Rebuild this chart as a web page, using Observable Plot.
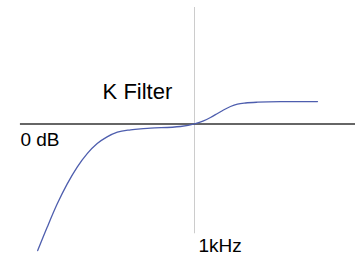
<!DOCTYPE html>
<html>
<head>
<meta charset="utf-8">
<script src="https://cdn.jsdelivr.net/npm/d3@7"></script>
<script src="https://cdn.jsdelivr.net/npm/@observablehq/plot@0.6"></script>
<style>
  html, body { margin: 0; padding: 0; background: #fff; }
  #chart svg { display: block; }
</style>
</head>
<body>
<div id="chart"></div>
<script>
// K-filter response (frequency in Hz, gain in dB)
const freqs  = [20, 25.4, 32.5, 41.8, 53.6, 68.8, 88.3, 113, 146, 203, 260, 334, 705, 1000, 1252, 1490, 1775, 2060, 2455, 2924, 3571, 4820, 8550, 21500];
const gainDb = [-22.6, -18.4, -14.3, -10.7, -7.7, -5.3, -3.5, -2.3, -1.46, -1.04, -0.86, -0.75, -0.45, 0, 0.54, 1.16, 1.88, 2.5, 3.12, 3.54, 3.75, 3.89, 3.98, 4.0];

const refFreq = 1000;   // vertical marker at 1 kHz
const refGain = 0;      // horizontal 0 dB line

const titleText = "K Filter";
const zeroLabel = "0 dB";
const freqLabel = "1kHz";

const curve = freqs.map((f, i) => ({f, g: gainDb[i]}));

const fLeft = 7.91, fRight = 55500;   // x domain (log)
const gTop = 22.05, gBottom = -23.48; // y domain (dB)

const chart = Plot.plot({
  width: 355,
  height: 255,
  margin: 0,
  style: {background: "#fff", fontFamily: "'Liberation Sans', Arial, sans-serif", overflow: "visible"},
  x: {type: "log", domain: [fLeft, fRight], range: [0, 355], axis: null},
  y: {domain: [gBottom, gTop], range: [255, 0], axis: null},
  marks: [
    Plot.ruleX([refFreq], {y1: 20.8, y2: -19.6, stroke: "#cccccc", strokeWidth: 1}),
    Plot.ruleY([refGain], {x1: 13, x2: fRight, stroke: "#333333", strokeWidth: 1.5}),
    Plot.line(curve, {x: "f", y: "g", curve: "monotone-x", stroke: "#4e5eae", strokeWidth: 1.3}),
    Plot.text([titleText], {x: 101, y: 4.375, text: d => d, textAnchor: "start", lineAnchor: "bottom", fontSize: 22, fill: "#000"}),
    Plot.text([zeroLabel], {x: 13, y: -3.84, text: d => d, textAnchor: "start", lineAnchor: "bottom", fontSize: 19, fill: "#000"}),
    Plot.text([freqLabel], {x: 1105, y: -22.77, text: d => d, textAnchor: "start", lineAnchor: "bottom", fontSize: 19, fill: "#000"})
  ]
});
document.getElementById("chart").appendChild(chart);
</script>
</body>
</html>
